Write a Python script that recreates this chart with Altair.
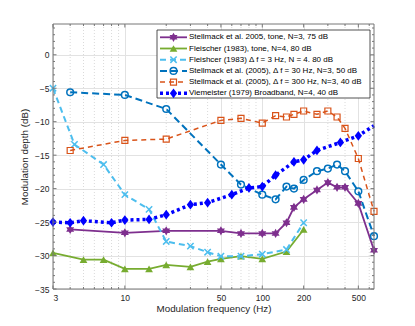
import math
import altair as alt
import pandas as pd

W, H = 321, 265
FONT = "Liberation Sans"

# ---------------- data ----------------
stel_freq = [4, 10, 20, 50, 70, 100, 125, 150, 170, 200, 250, 300, 350, 400, 500, 650]
stel_tone_db = [-26.1, -26.6, -26.3, -26.3, -26.7, -26.7, -26.7, -25.1, -22.8, -21.6,
                -20.2, -19.1, -19.8, -19.8, -22.2, -29.2]
stel_30_db = [-5.6, -6.0, -8.1, -16.4, -19.4, -20.9, -21.6, -19.7, -20.0, -18.7,
              -17.4, -17.0, -16.4, -17.4, -20.4, -27.1]
stel_300_db = [-14.3, -12.8, -12.6, -9.8, -9.5, -10.2, -9.1, -9.3, -8.9, -8.4,
               -8.9, -8.4, -9.3, -11.0, -15.5, -23.4]
fl_freq = [3, 5, 7, 10, 15, 20, 30, 40, 50, 70, 100, 150, 200]
fl_tone_db = [-29.6, -30.6, -30.6, -32.0, -32.0, -31.4, -31.7, -30.9, -30.5, -30.1,
              -30.5, -29.4, -26.1]
fl3_freq = [3, 4.3, 7, 10, 15, 20, 30, 40, 50, 70, 100, 150, 200]
fl3_db = [-5.0, -13.4, -16.4, -20.9, -23.1, -27.9, -28.6, -29.5, -30.1, -30.1,
          -29.8, -29.1, -25.1]
viem_freq = [3, 4, 5, 8, 10, 15, 20, 30, 40, 60, 80, 100, 125, 170, 200, 250, 370, 500, 650]
viem_db = [-25.0, -25.1, -24.8, -25.1, -24.7, -24.6, -23.9, -22.4, -22.1, -20.9,
           -19.9, -19.7, -18.0, -16.0, -15.7, -14.3, -13.1, -12.1, -10.6]

labels = [
    "Stellmack et al. 2005, tone, N=3, 75 dB",
    "Fleischer (1983), tone, N=4, 80 dB",
    "Fleishcer (1983) \u0394 f = 3 Hz, N = 4. 80 dB",
    "Stellmack et al. (2005), \u0394 f = 30 Hz, N=3, 50 dB",
    "Stellmack et al. (2005), \u0394 f = 300 Hz, N=3, 40 dB",
    "Viemeister (1979) Broadband, N=4, 40 dB",
]

xt_major = [3, 10, 50, 100, 200, 500]
xt_minor = [4, 5, 6, 7, 8, 9, 20, 30, 40, 60, 70, 80, 90, 300, 400, 600]
yt_major = list(range(-35, 1, 5))
yt_minor = [v for v in range(-35, 5) if v % 5 != 0]

# ---------------- styles ----------------
def star_path(n=6, R=1.0, r=0.577):
    pts = []
    for i in range(2 * n):
        a = -math.pi / 2 + i * math.pi / n
        rr = R if i % 2 == 0 else r
        pts.append(f"{rr*math.cos(a):.3f},{rr*math.sin(a):.3f}")
    return "M" + "L".join(pts) + "Z"

HEX = star_path()
XMARK = "M-1,-1L1,1M-1,1L1,-1"
DIAM = "M0,-1L0.75,0L0,1L-0.75,0Z"

series = [
    dict(f=stel_freq, d=stel_tone_db, color="#7E2F8E", width=1.8, dash=None,
         shape=HEX, size=85, filled=True, sw=1),
    dict(f=fl_freq, d=fl_tone_db, color="#77AC30", width=1.8, dash=None,
         shape="triangle-up", size=60, filled=True, sw=1),
    dict(f=fl3_freq, d=fl3_db, color="#4DBEEE", width=2, dash=[6, 4],
         shape=XMARK, size=40, filled=False, sw=1.5),
    dict(f=stel_freq, d=stel_30_db, color="#0072BD", width=2, dash=[7, 4],
         shape="circle", size=45, filled=False, sw=1.5),
    dict(f=stel_freq, d=stel_300_db, color="#D95319", width=1.5, dash=[5, 4],
         shape="square", size=36, filled=False, sw=1.2),
    dict(f=viem_freq, d=viem_db, color="#0000FF", width=3.5, dash=[3, 3],
         shape=DIAM, size=95, filled=True, sw=1),
]

xscale = alt.Scale(type="log", domain=[3, 650], nice=False, zero=False)
yscale = alt.Scale(domain=[-35, 4.6], nice=False, zero=False)

XAXIS = alt.Axis(
    values=xt_major, format="d", grid=True, gridColor="#e2e2e2", gridWidth=1,
    ticks=False, domain=False, labelFontSize=8.5, labelPadding=4, labelColor="#262626",
    labelFont=FONT, title="Modulation frequency (Hz)", titleFont=FONT,
    titleFontSize=9.8, titleFontWeight="normal", titleColor="#262626", titlePadding=2)
YAXIS = alt.Axis(
    values=yt_major, grid=True, gridColor="#e2e2e2", gridWidth=1,
    ticks=False, domain=False, labelFontSize=8.5, labelPadding=4, labelColor="#262626",
    labelFont=FONT, title="Modulation depth (dB)", titleFont=FONT,
    titleFontSize=9.8, titleFontWeight="normal", titleColor="#262626", titlePadding=5)


def XE():
    return alt.X("f:Q", scale=xscale, axis=XAXIS, title="Modulation frequency (Hz)")


def YE():
    return alt.Y("db:Q", scale=yscale, axis=YAXIS, title="Modulation depth (dB)")


layers = []

# axes layer (invisible marks)
layers.append(
    alt.Chart(pd.DataFrame({"f": stel_freq, "db": stel_tone_db})).mark_point(opacity=0).encode(
        x=XE(), y=YE())
)

# minor x grid (dotted)
layers.append(
    alt.Chart(pd.DataFrame({"f": xt_minor})).mark_rule(color="#dadada", strokeDash=[1, 2], strokeWidth=1).encode(
        x=XE(), y=alt.value(0), y2=alt.value(H))
)

# data series
for s in series:
    df = pd.DataFrame({"f": s["f"], "db": s["d"]})
    lkw = dict(color=s["color"], strokeWidth=s["width"])
    if s["dash"]:
        lkw["strokeDash"] = s["dash"]
    layers.append(alt.Chart(df).mark_line(**lkw).encode(x=XE(), y=YE()))
    pkw = dict(shape=s["shape"], size=s["size"], filled=s["filled"], color=s["color"],
               strokeWidth=s["sw"], opacity=1)
    pt = alt.Chart(df).mark_point(**pkw).encode(x=XE(), y=YE())
    if s["shape"] == DIAM:
        pt = pt.transform_filter("datum.f < 600")
    layers.append(pt)

# inward ticks
TC = "#777777"


def xticks(vals, length):
    d = pd.DataFrame({"f": vals})
    b = alt.Chart(d).mark_rule(color=TC, strokeWidth=1).encode(x=XE(), y=alt.value(H), y2=alt.value(H - length))
    t = alt.Chart(d).mark_rule(color=TC, strokeWidth=1).encode(x=XE(), y=alt.value(0), y2=alt.value(length))
    return [b, t]


def yticks(vals, length):
    d = pd.DataFrame({"db": vals})
    l = alt.Chart(d).mark_rule(color=TC, strokeWidth=1).encode(y=YE(), x=alt.value(0), x2=alt.value(length))
    r = alt.Chart(d).mark_rule(color=TC, strokeWidth=1).encode(y=YE(), x=alt.value(W), x2=alt.value(W - length))
    return [l, r]


layers += xticks(xt_major, 3.5) + xticks(xt_minor, 2) + yticks(yt_major, 3.5) + yticks(yt_minor, 2)

# frame
layers.append(
    alt.Chart(pd.DataFrame({"a": [0]})).mark_rect(fill="transparent", stroke=TC, strokeWidth=1).encode(
        x=alt.value(0), x2=alt.value(W), y=alt.value(0), y2=alt.value(H))
)

# legend
LX0, LX1, LY0, LY1 = 104, 317, 6, 74
layers.append(
    alt.Chart(pd.DataFrame({"a": [0]})).mark_rect(fill="white", stroke="#262626", strokeWidth=0.8).encode(
        x=alt.value(LX0), x2=alt.value(LX1), y=alt.value(LY0), y2=alt.value(LY1))
)
for i, (s, lab) in enumerate(zip(series, labels)):
    ly = 13.3 + 11.2 * i
    d = pd.DataFrame({"label": [lab]})
    lkw = dict(color=s["color"], strokeWidth=s["width"])
    if s["dash"]:
        lkw["strokeDash"] = s["dash"]
    layers.append(alt.Chart(d).mark_rule(**lkw).encode(
        x=alt.value(107), x2=alt.value(134), y=alt.value(ly)))
    layers.append(alt.Chart(d).mark_point(shape=s["shape"], size=s["size"], filled=s["filled"],
                                          color=s["color"], strokeWidth=s["sw"], opacity=1).encode(
        x=alt.value(120.5), y=alt.value(ly)))
    layers.append(alt.Chart(d).mark_text(align="left", baseline="middle", fontSize=8, font=FONT,
                                         color="#000000").encode(
        x=alt.value(136), y=alt.value(ly), text="label:N"))

chart = alt.layer(*layers).properties(
    width=W, height=H,
    padding={"left": 45, "top": 16, "right": 20, "bottom": 28},
    autosize=alt.AutoSizeParams(type="none"),
).configure_view(strokeWidth=0)

chart.save("out.html", embed_options={"renderer": "svg", "actions": False})
